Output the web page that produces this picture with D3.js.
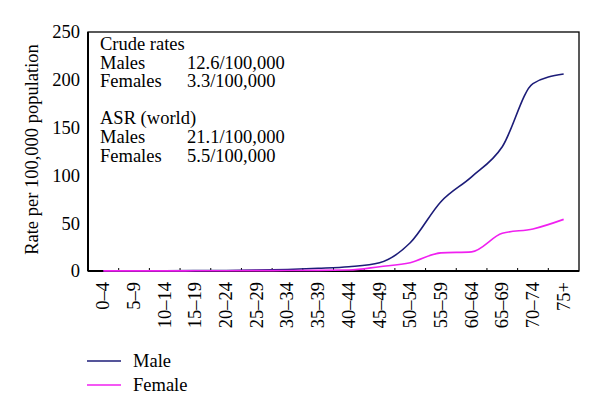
<!DOCTYPE html>
<html>
<head>
<meta charset="utf-8">
<script src="https://cdn.jsdelivr.net/npm/d3@7"></script>
<style>
  body { margin: 0; background: #fff; }
  text { font-family: "Liberation Serif", "Times New Roman", serif; }
</style>
</head>
<body>
<svg width="600" height="418"></svg>
<script>
var ageGroups = ["0\u20134", "5\u20139", "10\u201314", "15\u201319", "20\u201324", "25\u201329", "30\u201334", "35\u201339",
                 "40\u201344", "45\u201349", "50\u201354", "55\u201359", "60\u201364", "65\u201369", "70\u201374", "75+"];
var male   = [0.3, 0.3, 0.3, 0.4, 0.6, 1.0, 1.6, 2.8, 4.5, 8.7, 29.5, 72.5, 98.5, 130, 196, 206];
var female = [0.1, 0.1, 0.1, 0.2, 0.3, 0.4, 0.5, 0.7, 1.0, 4.5, 8.7, 19, 20, 39.4, 44, 54];
var yTicks = [0, 50, 100, 150, 200, 250];
var notes = [
  ["Crude rates", ""],
  ["Males", "12.6/100,000"],
  ["Females", "3.3/100,000"],
  ["", ""],
  ["ASR (world)", ""],
  ["Males", "21.1/100,000"],
  ["Females", "5.5/100,000"]
];
var series = [
  {name: "Male", values: male, color: "#1c1c78"},
  {name: "Female", values: female, color: "#f020f0"}
];

var fs = 18.5; // text size used everywhere

var svg = d3.select("svg"),
    margin = {top: 32, right: 21, bottom: 147, left: 88},
    width = +svg.attr("width") - margin.left - margin.right,
    height = +svg.attr("height") - margin.top - margin.bottom,
    g = svg.append("g").attr("transform", "translate(" + margin.left + "," + margin.top + ")");

var x = d3.scaleBand().domain(ageGroups).range([0, width]);
var y = d3.scaleLinear().domain([0, 250]).range([height, 0]);

// y axis labels, no tick marks
var yAxis = g.append("g")
    .call(d3.axisLeft(y).tickValues(yTicks).tickSize(0).tickPadding(8));
yAxis.select(".domain").remove();
yAxis.selectAll("text").attr("font-size", fs).attr("fill", "#000")
    .style("font-family", "Liberation Serif, serif");

// x axis: small inward ticks on band edges, rotated labels
var edges = d3.range(1, ageGroups.length).map(function(i) { return i * x.step(); });
g.selectAll(".xtick").data(edges).enter().append("line")
    .attr("x1", function(d) { return d; }).attr("x2", function(d) { return d; })
    .attr("y1", height).attr("y2", height - 3)
    .attr("stroke", "#000").attr("stroke-width", 1);

g.selectAll(".xlabel").data(ageGroups).enter().append("text")
    .attr("transform", function(d) {
      return "translate(" + (x(d) + x.bandwidth() / 2 + 6) + "," + (height + 11) + ") rotate(-90)";
    })
    .attr("text-anchor", "end")
    .attr("font-size", fs)
    .text(function(d) { return d; });

// frame
g.append("rect")
    .attr("width", width).attr("height", height)
    .attr("fill", "none").attr("stroke", "#000").attr("stroke-width", 1.3);
g.append("line")
    .attr("x1", 0).attr("x2", width).attr("y1", height).attr("y2", height)
    .attr("stroke", "#000").attr("stroke-width", 2);
g.append("line")
    .attr("x1", 0).attr("x2", 0).attr("y1", 0).attr("y2", height)
    .attr("stroke", "#000").attr("stroke-width", 2);

// y title
svg.append("text")
    .attr("transform", "translate(38," + (margin.top + height / 2 - 2) + ") rotate(-90)")
    .attr("text-anchor", "middle")
    .attr("font-size", fs)
    .text("Rate per 100,000 population");

var line = d3.line()
    .x(function(d, i) { return x(ageGroups[i]) + x.bandwidth() / 2; })
    .y(function(d) { return y(d); })
    .curve(d3.curveMonotoneX);

g.selectAll(".series").data(series).enter().append("path")
    .attr("fill", "none")
    .attr("stroke", function(d) { return d.color; })
    .attr("stroke-width", 1.6)
    .attr("d", function(d) { return line(d.values); });

// annotation block
var note = g.append("g").attr("transform", "translate(12,0)");
notes.forEach(function(r, i) {
  note.append("text").attr("x", 0).attr("y", 18 + i * 18.6).attr("font-size", fs).text(r[0]);
  note.append("text").attr("x", 87).attr("y", 18 + i * 18.6).attr("font-size", fs).text(r[1]);
});

// legend
var legend = svg.append("g").attr("transform", "translate(87,361)");
series.forEach(function(s, i) {
  legend.append("line")
      .attr("x1", 0).attr("x2", 34).attr("y1", i * 24).attr("y2", i * 24)
      .attr("stroke", s.color).attr("stroke-width", 1.6);
  legend.append("text")
      .attr("x", 46).attr("y", i * 24 + 6)
      .attr("font-size", fs)
      .text(s.name);
});
</script>
</body>
</html>
